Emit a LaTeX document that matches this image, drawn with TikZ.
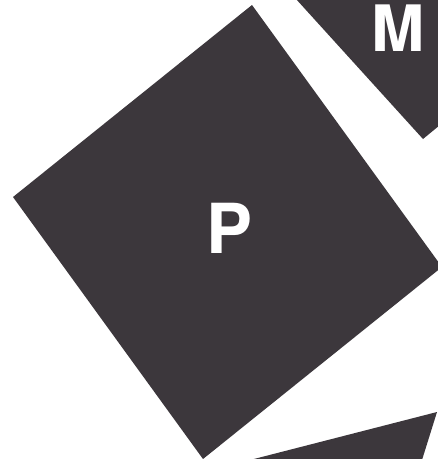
\documentclass[tikz,border=0pt]{standalone}
\usepackage{fontspec}
\setmainfont{TeX Gyre Heros}
\definecolor{slate}{RGB}{60,55,60}
\tikzset{
  panel/.style={fill=slate, draw=none},
  bigletter/.style={text=white, font=\fontsize{69}{69}\selectfont\bfseries, inner sep=0pt, anchor=base}
}
\begin{document}
\begin{tikzpicture}[x=1pt, y=-1pt]
\useasboundingbox (0,0) rectangle (438,459);
\clip (0,0) rectangle (438,459);
\fill[white] (0,0) rectangle (438,459);
% large tilted square P
\coordinate (pt) at (252,5);
\coordinate (pl) at (13,197);
\coordinate (pb) at (203,459);
\coordinate (pr) at (442,267);
\path[panel] (pt) -- (pl) -- (pb) -- (pr) -- cycle;
% partial shape M (top right)
\coordinate (m1) at (296,-1);
\coordinate (m2) at (423,139);
\coordinate (m3) at (440,125);
\coordinate (m4) at (440,-1);
\path[panel] (m1) -- (m2) -- (m3) -- (m4) -- cycle;
% partial triangle (bottom right)
\coordinate (t1) at (250,460);
\coordinate (t2) at (437,412);
\coordinate (t3) at (422,460);
\path[panel] (t1) -- (t2) -- (t3) -- cycle;
% labels
\node[bigletter] (P) at (230,253) {P};
\node[bigletter, font=\fontsize{64}{64}\selectfont\bfseries] (M) at (398.5,51) {M};
\end{tikzpicture}
\end{document}
